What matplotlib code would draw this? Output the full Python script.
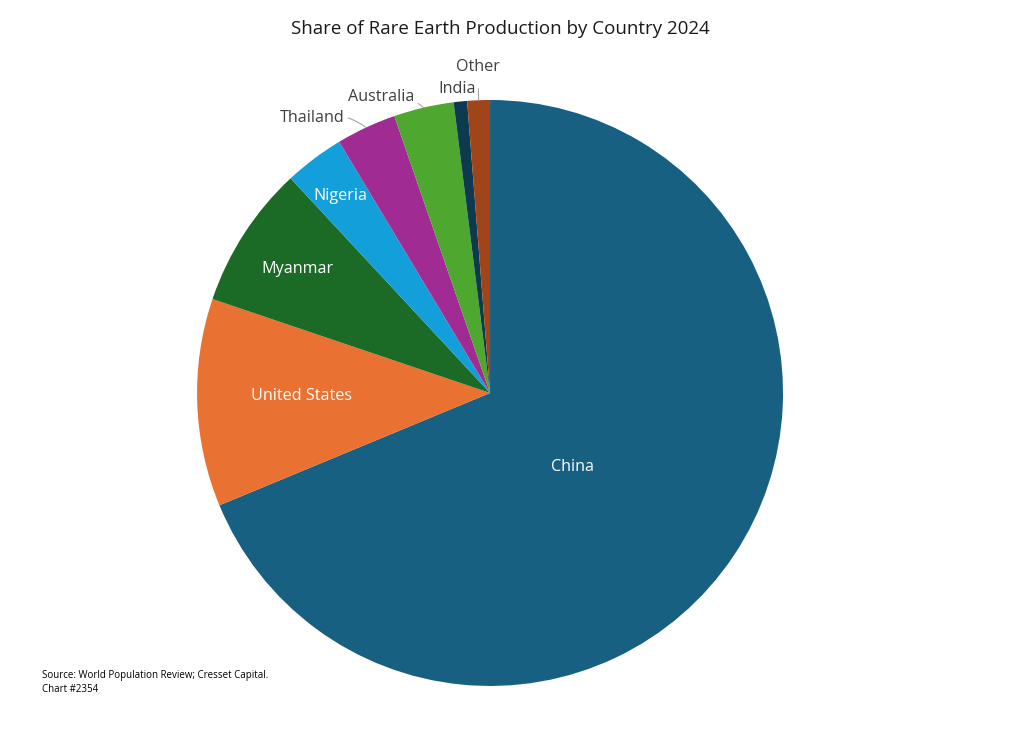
import matplotlib
matplotlib.use("Agg")
import matplotlib.pyplot as plt
import numpy as np

plt.rcParams["font.family"] = ["Open Sans", "DejaVu Sans"]

# 数据：2024年稀土产量（吨）
countries = ["China", "United States", "Myanmar", "Nigeria", "Thailand", "Australia", "India", "Other"]
production = [270000, 45000, 31000, 13000, 13000, 13000, 2900, 4900]
colors = ["#176082", "#E97132", "#1B6B26", "#139FD9", "#A02B93", "#4EA72E", "#0E3A50", "#A0451A"]

fig = plt.figure(figsize=(10.24, 7.44), dpi=100)
ax = fig.add_axes([0.1924, 0.078, 0.5723, 0.7876])

wedges, _ = ax.pie(production, colors=colors, startangle=90, counterclock=False,
                   wedgeprops=dict(linewidth=0))
ax.set_xlim(-1, 1)
ax.set_ylim(-1, 1)
ax.set_aspect("equal")
ax.axis("off")

# 扇区内标签（白色）
inner_pos = {"China": (0.283, -0.253), "United States": (-0.645, -0.010),
             "Myanmar": (-0.659, 0.423), "Nigeria": (-0.512, 0.672)}
for name, (x, y) in inner_pos.items():
    ax.text(x, y, name, color="white", fontsize=11.6, ha="center", va="center")

# 扇区外标签（灰色，带引线）
outer_pos = {"Thailand": (-0.608, 0.939), "Australia": (-0.372, 1.010),
             "India": (-0.113, 1.038), "Other": (-0.041, 1.113)}
for w, name in zip(wedges, countries):
    if name not in outer_pos:
        continue
    ang = np.deg2rad((w.theta1 + w.theta2) / 2)
    xy = (np.cos(ang), np.sin(ang))
    tx, ty = outer_pos[name]
    if name == "India":
        ax.text(tx, ty, name, color="#404040", fontsize=11.6, ha="center", va="center")
    elif name == "Other":
        ax.annotate(name, xy=xy, xytext=(tx, ty), color="#404040", fontsize=11.6,
                    ha="center", va="center",
                    arrowprops=dict(arrowstyle="-", color="#A6A6A6", lw=0.8,
                                    shrinkA=8, shrinkB=0))
    else:
        ax.annotate(name, xy=xy, xytext=(tx, ty), color="#404040", fontsize=11.6,
                    ha="center", va="center",
                    arrowprops=dict(arrowstyle="-", color="#A6A6A6", lw=0.8,
                                    shrinkA=1, shrinkB=0,
                                    connectionstyle="arc3,rad=-0.25"))

fig.text(0.4883, 0.961, "Share of Rare Earth Production by Country 2024",
         fontsize=13.5, ha="center", va="center", color="#1a1a1a")
fig.text(0.041, 0.083, "Source: World Population Review; Cresset Capital.\nChart #2354",
         fontsize=7, ha="left", va="center", color="black", linespacing=1.4)

fig.savefig("out.png", dpi=100)
